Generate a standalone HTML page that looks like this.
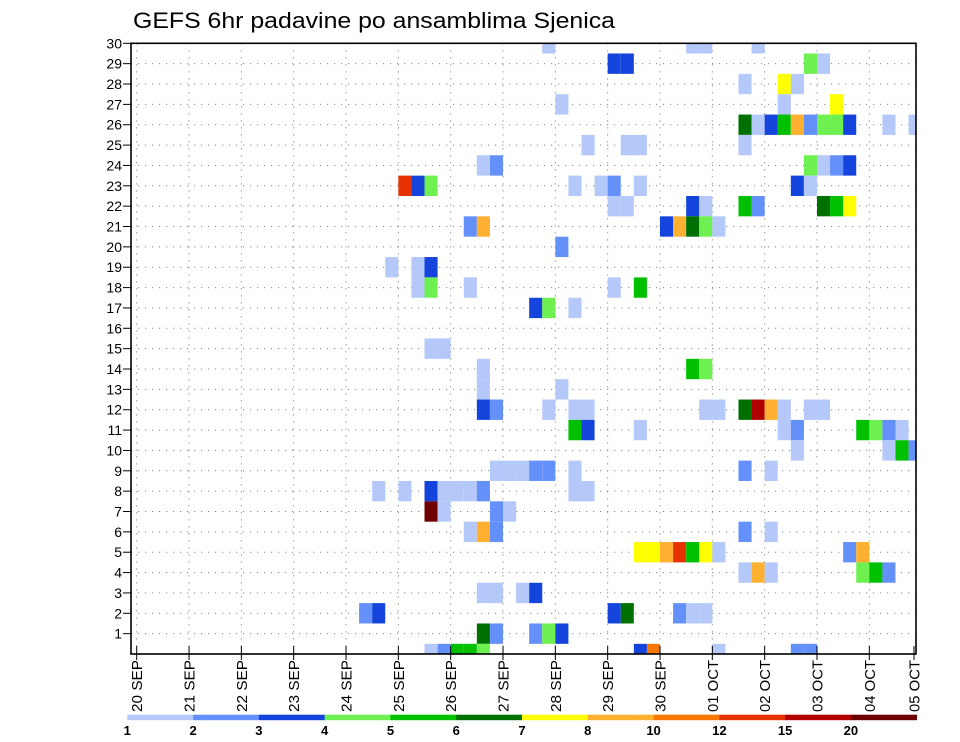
<!DOCTYPE html>
<html><head><meta charset="utf-8"><title>GEFS 6hr padavine po ansamblima Sjenica</title>
<style>html,body{margin:0;padding:0;background:#fff}svg{display:block}</style></head>
<body>
<svg id="chart" width="960" height="742" viewBox="0 0 960 742" xmlns="http://www.w3.org/2000/svg" font-family="'Liberation Sans', sans-serif">
<text x="133" y="28" font-size="22" textLength="482" lengthAdjust="spacingAndGlyphs" fill="#000">GEFS 6hr padavine po ansamblima Sjenica</text>
<g id="grid"></g>
<g id="cells"></g>
<rect x="131" y="43.3" width="785" height="610.7" fill="none" stroke="#000" stroke-width="1.6"/>
<g id="yaxis"></g>
<g id="xaxis"></g>
<g id="legend"></g>
</svg>
<script>
// ---- data ----
const dayLabels = ["20 SEP","21 SEP","22 SEP","23 SEP","24 SEP","25 SEP","26 SEP","27 SEP","28 SEP","29 SEP","30 SEP","01 OCT","02 OCT","03 OCT","04 OCT","05 OCT"];
const memberTicks = [1,2,3,4,5,6,7,8,9,10,11,12,13,14,15,16,17,18,19,20,21,22,23,24,25,26,27,28,29,30];
const levelBounds = [1,2,3,4,5,6,7,8,10,12,15,20];
const levelColors = ["#b4c8fa","#6490fa","#1444dc","#6ef050","#00c000","#007000","#ffff00","#ffb030","#fa7800","#e63200","#b00000","#6e0000"];
// cells: ensemble member, 6-hour step index since 20 SEP 00Z, precipitation (mm)
const cellMember = [
30,30,30,30,
29,29,29,29,
28,28,28,
27,27,27,
26,26,26,26,26,26,26,26,26,26,26,
25,25,25,25,
24,24,24,24,24,24,
23,23,23,23,23,23,23,23,23,
22,22,22,22,22,22,22,22,22,
21,21,21,21,21,21,21,
20,
19,19,19,
18,18,18,18,18,
17,17,17,
15,15,
14,14,14,
13,13,
12,12,12,12,12,12,12,12,12,12,12,12,12,
11,11,11,11,11,11,11,11,11,
10,10,10,10,
9,9,9,9,9,9,9,9,
8,8,8,8,8,8,8,8,8,
7,7,7,7,
6,6,6,6,6,
5,5,5,5,5,5,5,5,5,
4,4,4,4,4,4,
3,3,3,3,
2,2,2,2,2,2,2,
1,1,1,1,1,
0,0,0,0,0,0,0,0,0,0];
const cellStep = [
31,42,43,47,
36,37,51,52,
46,49,50,
32,49,53,
46,47,48,49,50,51,52,53,54,57,59,
34,37,38,46,
26,27,51,52,53,54,
20,21,22,33,35,36,38,50,51,
36,37,42,43,46,47,52,53,54,
25,26,40,41,42,43,44,
32,
19,21,22,
21,22,25,36,38,
30,31,33,
22,23,
26,42,43,
26,32,
26,27,31,33,34,43,44,46,47,48,49,51,52,
33,34,38,49,50,55,56,57,58,
50,57,58,59,
27,28,29,30,31,33,46,48,
18,20,22,23,24,25,26,33,34,
22,23,27,28,
25,26,27,46,48,
38,39,40,41,42,43,44,54,55,
46,47,48,55,56,57,
26,27,29,30,
17,18,36,37,41,42,43,
26,27,30,31,32,
22,23,24,25,26,38,39,44,50,51];
const cellPrecip = [
1.5,1.5,1.5,1.5,
3.5,3.5,4.5,1.5,
1.5,7.5,1.5,
1.5,1.5,7.5,
6.5,1.5,3.5,5.5,9,2.5,4.5,4.5,3.5,1.5,1.5,
1.5,1.5,1.5,1.5,
1.5,2.5,4.5,1.5,2.5,3.5,
13.5,3.5,4.5,1.5,1.5,2.5,1.5,3.5,1.5,
1.5,1.5,3.5,1.5,5.5,2.5,6.5,5.5,7.5,
2.5,9,3.5,9,6.5,4.5,1.5,
2.5,
1.5,1.5,3.5,
1.5,4.5,1.5,1.5,5.5,
3.5,4.5,1.5,
1.5,1.5,
1.5,5.5,4.5,
1.5,1.5,
3.5,2.5,1.5,1.5,1.5,1.5,1.5,6.5,17,9,1.5,1.5,1.5,
5.5,3.5,1.5,1.5,2.5,5.5,4.5,2.5,1.5,
1.5,1.5,5.5,2.5,
1.5,1.5,1.5,2.5,2.5,1.5,2.5,1.5,
1.5,1.5,3.5,1.5,1.5,1.5,2.5,1.5,1.5,
22,1.5,2.5,1.5,
1.5,9,2.5,2.5,1.5,
7.5,7.5,9,13.5,5.5,7.5,1.5,2.5,9,
1.5,9,1.5,4.5,5.5,2.5,
1.5,1.5,1.5,3.5,
2.5,3.5,3.5,6.5,2.5,1.5,1.5,
6.5,2.5,2.5,4.5,3.5,
1.5,2.5,5.5,5.5,4.5,3.5,11,1.5,2.5,2.5];

// ---- axes ----
const NS = "http://www.w3.org/2000/svg";
const plotL = 131, plotR = 916, plotT = 43.3, plotB = 654;
const x0 = 136.7, dayW = 52.33, stepW = dayW / 4;
const rowH = (plotB - plotT) / 30;
function xDay(d) { return x0 + d * dayW; }
function xStep(t) { return x0 + t * stepW; }
function yMember(m) { return plotB - m * rowH; }
function colorFor(v) {
  let idx = 0;
  for (let i = 0; i < levelBounds.length; i++) { if (v >= levelBounds[i]) idx = i; }
  return levelColors[idx];
}
function mk(tag, attrs, parent) {
  const el = document.createElementNS(NS, tag);
  for (const k in attrs) el.setAttribute(k, attrs[k]);
  parent.appendChild(el);
  return el;
}

// grid
const grid = document.getElementById("grid");
for (let m = 1; m < 30; m++) {
  const ln = mk("line", {x1: plotL, x2: plotR, y1: yMember(m), y2: yMember(m), stroke: "#888", "stroke-width": 1, "stroke-dasharray": "1.2 5.8"}, grid);
  
  
}
for (let d = 0; d < dayLabels.length; d++) {
  const x = xDay(d);
  if (x > plotR) continue;
  const ln = mk("line", {x1: x, x2: x, y1: plotT, y2: plotB, stroke: "#888", "stroke-width": 1, "stroke-dasharray": "1.2 5.8"}, grid);
  
  
}

// cells
const cells = document.getElementById("cells");
for (let i = 0; i < cellMember.length; i++) {
  const xl = xStep(cellStep[i]);
  const yc = yMember(cellMember[i]);
  let top = yc - rowH / 2, bot = yc + rowH / 2;
  top = Math.max(top, plotT); bot = Math.min(bot, plotB);
  const right = Math.min(xl + stepW, plotR);
  const r = mk("rect", {x: xl.toFixed(2), y: top.toFixed(2), width: (right - xl).toFixed(2), height: (bot - top).toFixed(2), fill: colorFor(cellPrecip[i])}, cells);
  
  
}

// y axis
const yax = document.getElementById("yaxis");
for (const m of memberTicks) {
  const y = yMember(m);
  const tk = mk("line", {x1: plotL - 8, x2: plotL, y1: y, y2: y, stroke: "#000", "stroke-width": 1}, yax);
  
  
  const tx = mk("text", {x: plotL - 9, y: y + 5, "font-size": 14, "text-anchor": "end", fill: "#000"}, yax);
  tx.textContent = String(m);
  
  
}

// x axis
const xax = document.getElementById("xaxis");
for (let d = 0; d < dayLabels.length; d++) {
  const x = Math.min(xDay(d), 914);
  const tk = mk("line", {x1: x, x2: x, y1: plotB - 8, y2: plotB + 6, stroke: "#000", "stroke-width": 1}, xax);
  
  
  const tx = mk("text", {x: 0, y: 0, "font-size": 15, "text-anchor": "end", fill: "#000", transform: `translate(${(x + 5.5).toFixed(1)},660) rotate(-90)`, textLength: 52, lengthAdjust: "spacingAndGlyphs"}, xax);
  tx.textContent = dayLabels[d].replace(" ", "  ");
  tx.setAttribute("xml:space", "preserve");
  
  
}

// legend
const leg = document.getElementById("legend");
const legL = 127.3, legR = 916.7, legY = 714.7, legH = 5.5;
const segW = (legR - legL) / levelColors.length;
for (let i = 0; i < levelColors.length; i++) {
  const r = mk("rect", {x: (legL + i * segW).toFixed(2), y: legY, width: (segW + 0.3).toFixed(2), height: legH, fill: levelColors[i]}, leg);
  
  
}
for (let i = 0; i < levelBounds.length; i++) {
  const tx = mk("text", {x: (legL + i * segW).toFixed(2), y: 735, "font-size": 13, "font-weight": "bold", "text-anchor": "middle", fill: "#000"}, leg);
  tx.textContent = String(levelBounds[i]);
  
  
}
</script>
</body></html>
